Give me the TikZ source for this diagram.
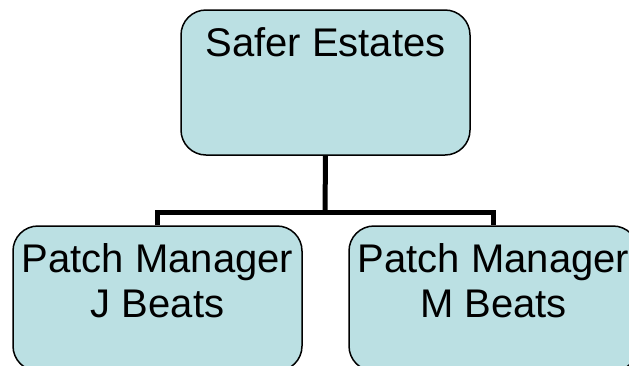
\documentclass[tikz,border=0pt]{standalone}
\usepackage{fontspec}
\setmainfont{Liberation Sans}
\usetikzlibrary{positioning}
\definecolor{boxblue}{RGB}{187,224,227}

\begin{document}
\begin{tikzpicture}[x=1pt,y=-1pt,node distance=18pt]
  \useasboundingbox (0,0) rectangle (629,365);
  \clip (0,0) rectangle (629,365);

\tikzset{box/.style={draw,fill=boxblue,rounded corners=25pt,line width=1.5pt,minimum width=289pt,minimum height=145pt,inner sep=0pt}}
\tikzset{boxtext/.style={inner sep=0pt,align=center,font=\fontsize{40}{45}\selectfont}}
\tikzset{wire/.style={line width=5pt}}
  \node[box]          (top)   at (325.5,82.5)    {};
  \node[box]          (jb)    at (157.5,298.5)   {};
  \node[box]          (mb)    at (493.5,298.5)   {};
  \coordinate         (bus)   at (325,212);

  \node[boxtext]      (toplbl) [below =of top.north]   {Safer Estates};
  \node[boxtext]      (jblbl)  [below =of jb.north]    {Patch Manager\\J Beats};
  \node[boxtext]      (mblbl)  [below =of mb.north]    {Patch Manager\\M Beats};

\draw[wire] (top.south) -- (bus);
\draw[wire] (jb.north) |- (bus) -| (mb.north);
\end{tikzpicture}
\end{document}
